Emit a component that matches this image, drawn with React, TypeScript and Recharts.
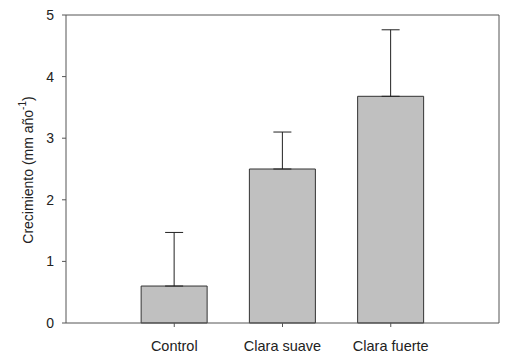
import React from 'react';
import { BarChart, Bar, XAxis, YAxis, ErrorBar, ReferenceLine } from 'recharts';

const categories = ['Control', 'Clara suave', 'Clara fuerte'];
const positions = [1, 2, 3];
const means = [0.6, 2.5, 3.68];
const upperErrors = [0.87, 0.6, 1.08];
const yTicks = [0, 1, 2, 3, 4, 5];

const data = categories.map((c, i) => ({
  name: c,
  pos: positions[i],
  value: means[i],
  err: [0, upperErrors[i]],
}));

const FONT = 'Arial, "Liberation Sans", sans-serif';

const YLabel = () => (
  <text
    x={0}
    y={0}
    transform="translate(33,170) rotate(-90)"
    textAnchor="middle"
    fontFamily={FONT}
    fontSize={14}
    fill="#222"
  >
    <tspan>Crecimiento (mm año</tspan>
    <tspan fontSize={10} dy={-7}>-1</tspan>
    <tspan dy={7}>)</tspan>
  </text>
);

export default function App() {
  return (
    <div style={{ position: 'absolute', left: 0, top: 0, background: '#fff' }}>
      <BarChart
        width={532}
        height={358}
        data={data}
        margin={{ top: 15, right: 33, left: 0, bottom: 0 }}
      >
        <XAxis
          dataKey="pos"
          type="number"
          domain={[0, 4]}
          ticks={positions}
          tickFormatter={(v: number) => categories[positions.indexOf(v)] ?? ''}
          height={35}
          tickSize={4}
          tickMargin={14}
          stroke="#555"
          tick={{ fill: '#222', fontSize: 14.5, fontFamily: FONT }}
          interval={0}
        />
        <YAxis
          domain={[0, 5]}
          ticks={yTicks}
          width={66}
          tickSize={4}
          tickMargin={8}
          stroke="#555"
          tick={{ fill: '#222', fontSize: 14, fontFamily: FONT }}
          label={<YLabel />}
        />
        <ReferenceLine y={5} stroke="#555" />
        <ReferenceLine x={4} stroke="#555" />
        <Bar
          dataKey="value"
          fill="#c0c0c0"
          stroke="#333"
          strokeWidth={1}
          barSize={66}
          isAnimationActive={false}
        >
          <ErrorBar dataKey="err" width={9} stroke="#222" strokeWidth={1} direction="y" />
        </Bar>
      </BarChart>
    </div>
  );
}
